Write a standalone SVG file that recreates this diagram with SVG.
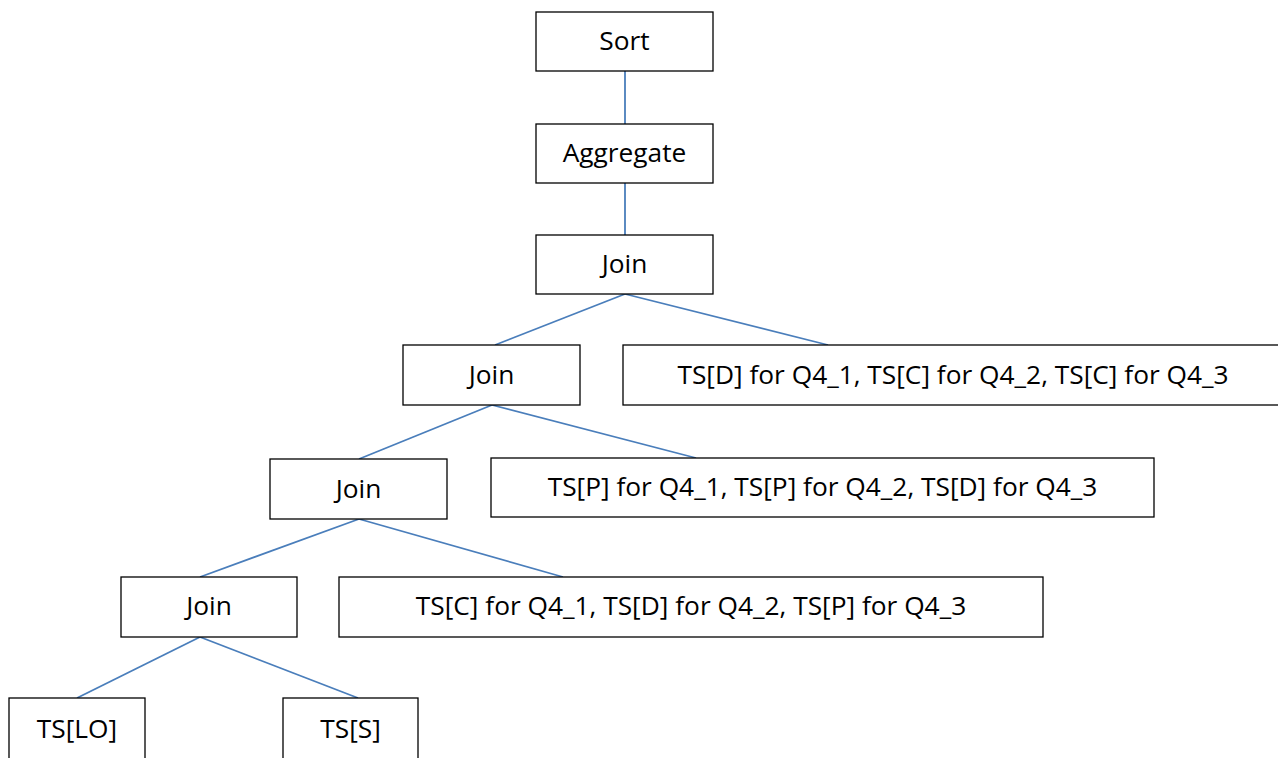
<svg xmlns="http://www.w3.org/2000/svg" width="1278" height="758" viewBox="0 0 1278 758">
<style>
.box{fill:#fff;stroke:#000;stroke-width:1.3}
.t{font-family:"Open Sans","Liberation Sans",sans-serif;font-size:26.3px;fill:#000;text-anchor:middle}
.c{stroke:#4a7ebb;stroke-width:1.8;fill:none}
</style>
<rect width="1278" height="758" fill="#fff"/>
<g id="connectors">
<line class="c" x1="625" y1="71" x2="625" y2="124"/>
<line class="c" x1="625" y1="183" x2="625" y2="235"/>
<line class="c" x1="625" y1="294" x2="495" y2="345"/>
<line class="c" x1="625" y1="294" x2="828" y2="345"/>
<line class="c" x1="492" y1="405" x2="359" y2="459"/>
<line class="c" x1="492" y1="405" x2="696" y2="458"/>
<line class="c" x1="359" y1="519" x2="200" y2="577"/>
<line class="c" x1="359" y1="519" x2="563" y2="577"/>
<line class="c" x1="200" y1="637" x2="77" y2="698"/>
<line class="c" x1="200" y1="637" x2="358" y2="698"/>
</g>
<g id="sort"><rect class="box" x="536" y="12" width="177" height="59"/><text class="t" x="624.5" y="50">Sort</text></g>
<g id="aggregate"><rect class="box" x="536" y="124" width="177" height="59"/><text class="t" x="624.5" y="162">Aggregate</text></g>
<g id="join1"><rect class="box" x="536" y="235" width="177" height="59"/><text class="t" x="624.5" y="273">Join</text></g>
<g id="join2"><rect class="box" x="403" y="345" width="177" height="60"/><text class="t" x="491.5" y="384">Join</text></g>
<g id="ts1"><rect class="box" x="623" y="345" width="660" height="60"/><text class="t" x="953" y="384">TS[D] for Q4_1, TS[C] for Q4_2, TS[C] for Q4_3</text></g>
<g id="join3"><rect class="box" x="270" y="459" width="177" height="60"/><text class="t" x="358.5" y="498">Join</text></g>
<g id="ts2"><rect class="box" x="491" y="458" width="663" height="59"/><text class="t" x="822.5" y="496">TS[P] for Q4_1, TS[P] for Q4_2, TS[D] for Q4_3</text></g>
<g id="join4"><rect class="box" x="121" y="577" width="176" height="60"/><text class="t" x="209" y="615">Join</text></g>
<g id="ts3"><rect class="box" x="339" y="577" width="704" height="60"/><text class="t" x="691" y="615">TS[C] for Q4_1, TS[D] for Q4_2, TS[P] for Q4_3</text></g>
<g id="tslo"><rect class="box" x="9" y="698" width="136" height="80"/><text class="t" x="77" y="738">TS[LO]</text></g>
<g id="tss"><rect class="box" x="283" y="698" width="135" height="80"/><text class="t" x="350.5" y="738">TS[S]</text></g>
</svg>
